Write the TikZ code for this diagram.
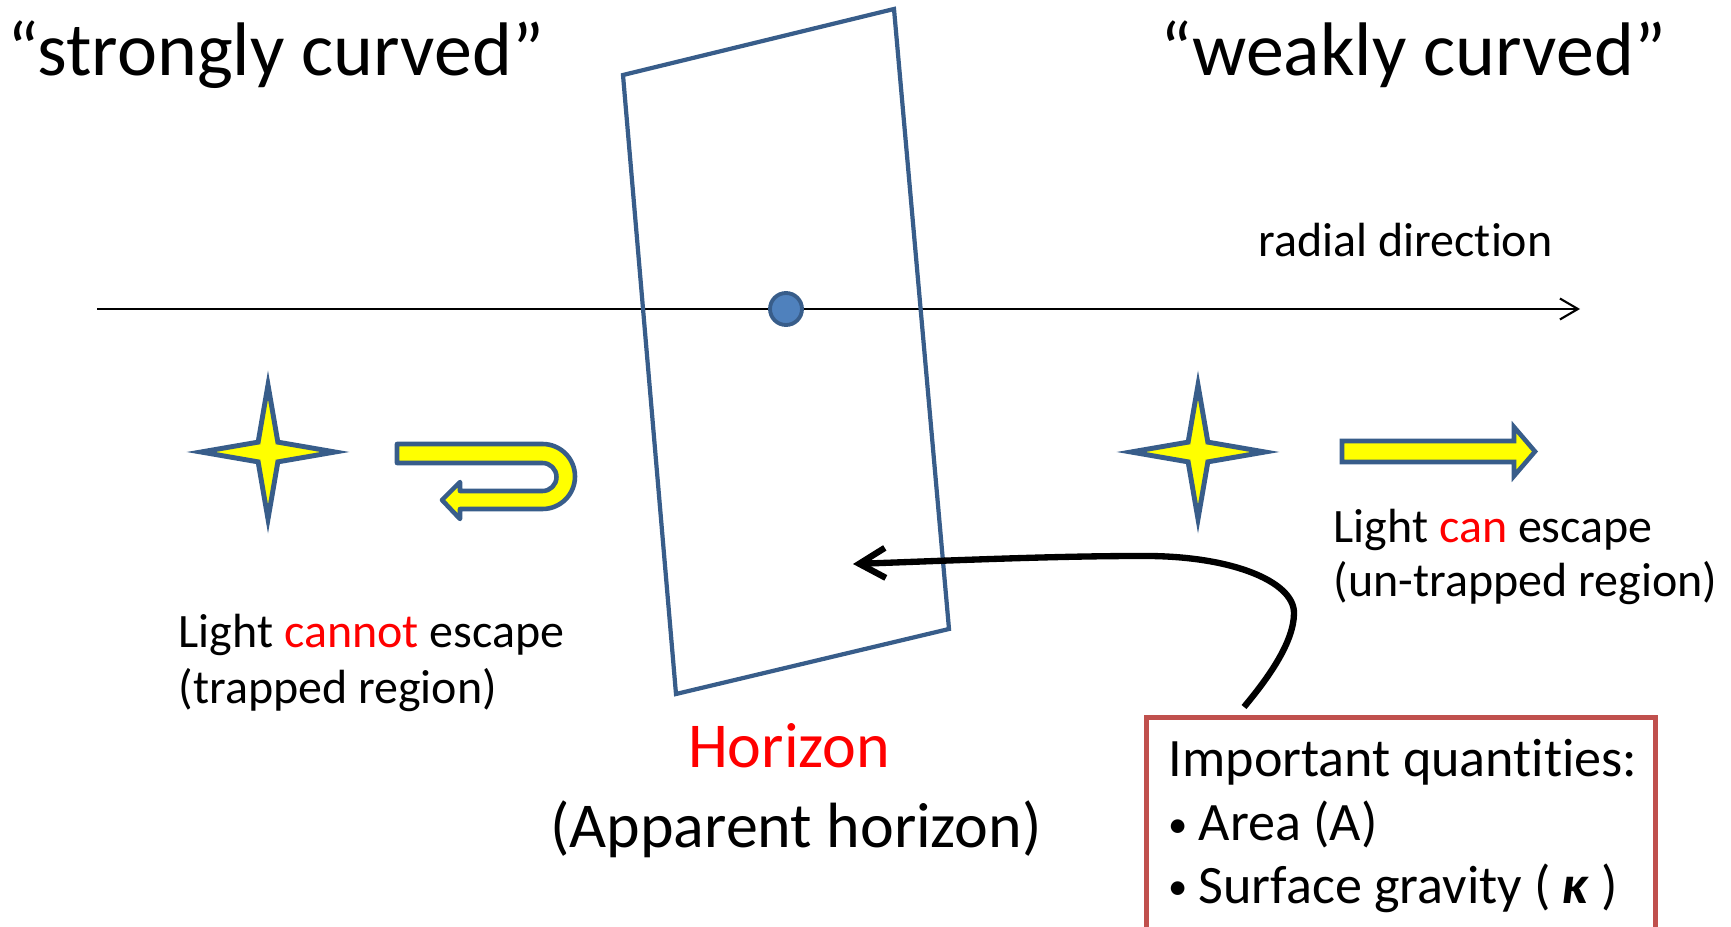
\documentclass[tikz,border=0pt]{standalone}
\usepackage{fontspec}
\setmainfont{Carlito}[Ligatures={NoCommon}]
\usepackage{xcolor}
\usetikzlibrary{arrows.meta, shapes.geometric}
\definecolor{edgeblue}{HTML}{385D8A}
\definecolor{dotblue}{HTML}{4F81BD}
\definecolor{boxred}{HTML}{C0504D}
\definecolor{lightyellow}{HTML}{FFFF00}

\begin{document}
\begin{tikzpicture}[
    title/.style={font=\fontsize{21.6}{26}\selectfont, anchor=base west, inner sep=0pt},
    caption/.style={font=\fontsize{13.65}{16}\selectfont, anchor=base west, inner sep=0pt},
    hlabel/.style={font=\fontsize{18.2}{22}\selectfont, anchor=base, inner sep=0pt},
    qlabel/.style={font=\fontsize{15.4}{18}\selectfont, anchor=base west, inner sep=0pt},
    surface/.style={draw=edgeblue, line width=1.2pt},
    lightstar/.style={star, star points=4, star point ratio=4.8, minimum size=1.34cm,
                      inner sep=0pt, draw=edgeblue, fill=lightyellow, line width=1.4pt},
    raybody/.style={draw=edgeblue, fill=lightyellow, line width=1.3pt, line join=round},
    axis/.style={-{Straight Barb[length=1.8mm, width=2.1mm]}, line width=0.6pt},
    callout/.style={-{Straight Barb[length=2.6mm, width=3.0mm]}, line width=1.8pt},
]
\useasboundingbox (0,0) rectangle (17.31,9.26);

\node[title] (strong) at (0.07,8.50) {“strongly curved”};
\node[title] (weak) at (11.60,8.50) {“weakly curved”};

\coordinate (origin) at (0.97,6.17);
\coordinate (far) at (15.80,6.17);
\draw[axis] (origin) -- (far);
\node[caption] (radial) at (12.58,6.69) {radial direction};

\draw[surface] (6.23,8.51) -- (8.94,9.17) -- (9.49,2.97) -- (6.76,2.32) -- cycle;
\node[circle, draw=edgeblue, fill=dotblue, line width=1.1pt, minimum size=0.32cm,
      inner sep=0pt] (centre) at (7.86,6.17) {};

\node[lightstar] (instar) at (2.68,4.74) {};
\node[lightstar] (outstar) at (11.98,4.74) {};

\draw[raybody] (3.97,4.82) -- (5.425,4.82) arc[start angle=90, end angle=-90, radius=0.325]
    -- (4.60,4.17) -- (4.60,4.07) -- (4.42,4.26) -- (4.60,4.44) -- (4.60,4.35)
    -- (5.425,4.35) arc[start angle=-90, end angle=90, radius=0.14] -- (3.97,4.63) -- cycle;
\draw[raybody, line join=miter] (13.42,4.85) -- (15.14,4.85) -- (15.14,4.99) -- (15.35,4.745)
    -- (15.14,4.50) -- (15.14,4.64) -- (13.42,4.64) -- cycle;

\node[caption] (trap1) at (1.78,2.78) {Light \textcolor{red}{cannot} escape};
\node[caption] (trap2) at (1.78,2.22) {(trapped region)};
\node[caption] (free1) at (13.33,3.83) {Light \textcolor{red}{can} escape};
\node[caption] (free2) at (13.33,3.29) {(un-trapped region)};

\node[hlabel, text=red] (horizon) at (7.89,1.58) {Horizon};
\node[hlabel] (apparent) at (7.96,0.79) {(Apparent horizon)};

\node[draw=boxred, line width=1.5pt, anchor=north west, minimum width=5.09cm,
      minimum height=2.4cm, inner sep=0pt] (quant) at (11.44,2.11) {};
\node[qlabel] (qhead) at (11.68,1.50) {Important quantities:};
\node[qlabel] (qarea) at (11.68,0.85) {\makebox[0.30cm][l]{\raisebox{0.15ex}{\fontsize{11}{11}\selectfont •}}Area (A)};
\node[qlabel] (qkappa) at (11.68,0.23) {\makebox[0.30cm][l]{\raisebox{0.15ex}{\fontsize{11}{11}\selectfont •}}Surface gravity ( {\bfseries\itshape κ} )};

\coordinate (tail) at ([shift={(1.0,0.08)}]quant.north west);
\coordinate (aim) at (8.53,3.62);
\draw[callout] (tail) .. controls (12.70,2.50) and (12.94,2.85) .. (12.94,3.13)
    .. controls (12.94,3.45) and (12.30,3.71) .. (11.40,3.70)
    .. controls (10.50,3.70) and (9.40,3.65) .. (aim);
\end{tikzpicture}
\end{document}
